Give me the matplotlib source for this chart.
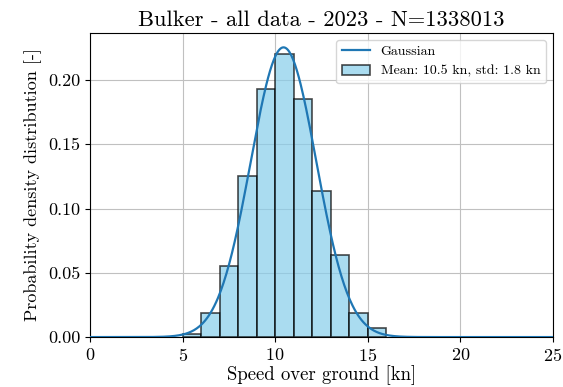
import numpy as np
import matplotlib
matplotlib.use("Agg")
import matplotlib.pyplot as plt

# Histogram data (bin edges in kn, density per bin)
bin_edges = [5, 6, 7, 8, 9, 10, 11, 12, 13, 14, 15, 16]
density = [0.0026, 0.0188, 0.0555, 0.1257, 0.193, 0.220, 0.185, 0.1134, 0.0636, 0.0188, 0.0068]

# Gaussian fit parameters
mean_kn = 10.45
std_kn = 1.77
hist_label = "Mean: 10.5 kn, std: 1.8 kn"
title = "Bulker - all data - 2023 - N=1338013"

plt.rcParams["font.family"] = "serif"
plt.rcParams["font.serif"] = ["cmr10"]
plt.rcParams["mathtext.fontset"] = "cm"
plt.rcParams["axes.formatter.use_mathtext"] = True

fig = plt.figure(figsize=(5.63, 3.87), dpi=100)
ax = fig.add_axes([0.160, 0.129, 0.822, 0.786])

lefts = np.array(bin_edges[:-1])
widths = np.diff(bin_edges)
ax.bar(lefts, density, width=widths, align="edge", color="skyblue",
       edgecolor="black", alpha=0.7, linewidth=1.2,
       label=hist_label, zorder=2)

x = np.linspace(0, 25, 500)
pdf = np.exp(-0.5 * ((x - mean_kn) / std_kn) ** 2) / (std_kn * np.sqrt(2 * np.pi))
ax.plot(x, pdf, color="tab:blue", linewidth=1.6, label="Gaussian", zorder=3)

ax.set_xlim(0, 25)
ax.set_ylim(0, pdf.max() * 1.05)
ax.set_xticks([0, 5, 10, 15, 20, 25])
ax.set_yticks([0.0, 0.05, 0.10, 0.15, 0.20])
ax.set_yticklabels(["0.00", "0.05", "0.10", "0.15", "0.20"])
ax.grid(True, color="#c0c0c0", linewidth=0.8, zorder=0)
ax.set_axisbelow(True)
ax.tick_params(labelsize=13)

ax.set_xlabel("Speed over ground [kn]", fontsize=13.5, labelpad=1)
ax.set_ylabel("Probability density distribution [-]", fontsize=13)
ax.set_title(title, fontsize=16.2, pad=5)

ax.legend(loc="upper right", fontsize=10)

fig.savefig("out.png", dpi=100)
